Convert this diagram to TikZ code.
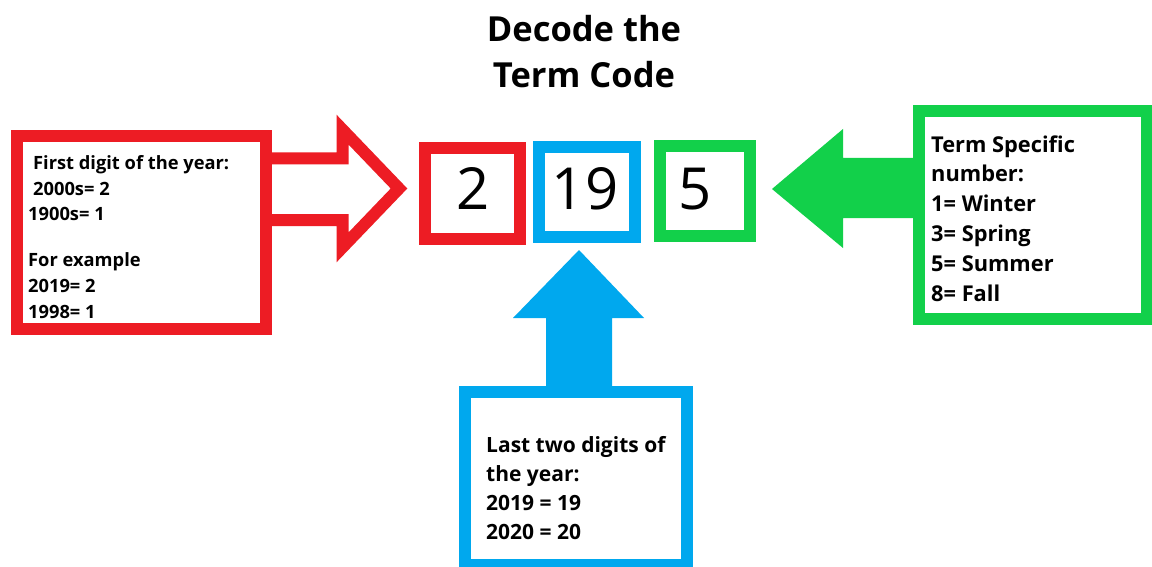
\documentclass[tikz,border=0pt]{standalone}
\usepackage{fontspec}
\setmainfont{Open Sans}
\definecolor{cred}{HTML}{ED1C24}
\definecolor{cblue}{HTML}{00A8EE}
\definecolor{cgreen}{HTML}{12D04A}
\tikzset{
  frame/.style={draw=#1, line width=12pt, fill=white},
  digit/.style={font=\fontsize{58}{60}\selectfont, inner sep=0pt},
  txt/.style={inner sep=0pt, anchor=base west, align=left},
}
\begin{document}
\begin{tikzpicture}[x=1pt,y=-1pt]
\clip (0,0) rectangle (1152,567);
\fill[white] (0,0) rectangle (1152,567);
% title (anchor base = last line)
\node[inner sep=0pt, anchor=base, align=center,
      font=\bfseries\fontsize{34.5}{45.5}\selectfont] (title) at (584,87.5) {Decode the\\Term Code};
% red hollow arrow
\draw[cred, line width=12pt, fill=white, miter limit=10]
  (255,158.5) -- (342.5,158.5) -- (342.5,129.6) -- (399,188.5) -- (342.5,247.4) -- (342.5,220) -- (255,220) -- cycle;
% green arrow
\fill[cgreen] (925,158) -- (843,158) -- (843,129) -- (772,189) -- (843,248) -- (843,218) -- (925,218) -- cycle;
% blue arrow
\fill[cblue] (579,250) -- (644,318) -- (612,318) -- (612,395) -- (546,395) -- (546,318) -- (513,318) -- cycle;
% boxes
\draw[frame=cred] (17,136) rectangle (265.5,329);
\draw[frame=cgreen] (918.5,111) rectangle (1146.5,319);
\draw[frame=cblue] (464.5,392) rectangle (687,565);
\draw[frame=cred] (424.5,148) rectangle (519.5,239);
\draw[frame=cblue] (539,147) rectangle (635,236.5);
\draw[frame=cgreen] (659.5,146) rectangle (750,235.5);
% digits
\node[digit, anchor=base] (d1) at (473.5,209) {2};
\node[digit, anchor=base] (d2) at (585,209) {19};
\node[digit, anchor=base] (d3) at (695.5,209) {5};
% texts (anchor base = last line)
\node[txt, font=\bfseries\fontsize{18.3}{25.7}\selectfont] (redtxt) at (28,318)
  {\hspace{5pt}First digit of the year:\\ \hspace{5pt}2000s= 2\\1900s= 1\\[20pt]For example\\2019= 2\\1998= 1};
\node[txt, font=\bfseries\fontsize{21.8}{29.8}\selectfont] (greentxt) at (931,301)
  {Term Specific\\number:\\1= Winter\\3= Spring\\5= Summer\\8= Fall};
\node[txt, font=\bfseries\fontsize{21}{29}\selectfont] (bluetxt) at (486,539)
  {Last two digits of\\the year:\\2019 = 19\\2020 = 20};
\end{tikzpicture}
\end{document}
